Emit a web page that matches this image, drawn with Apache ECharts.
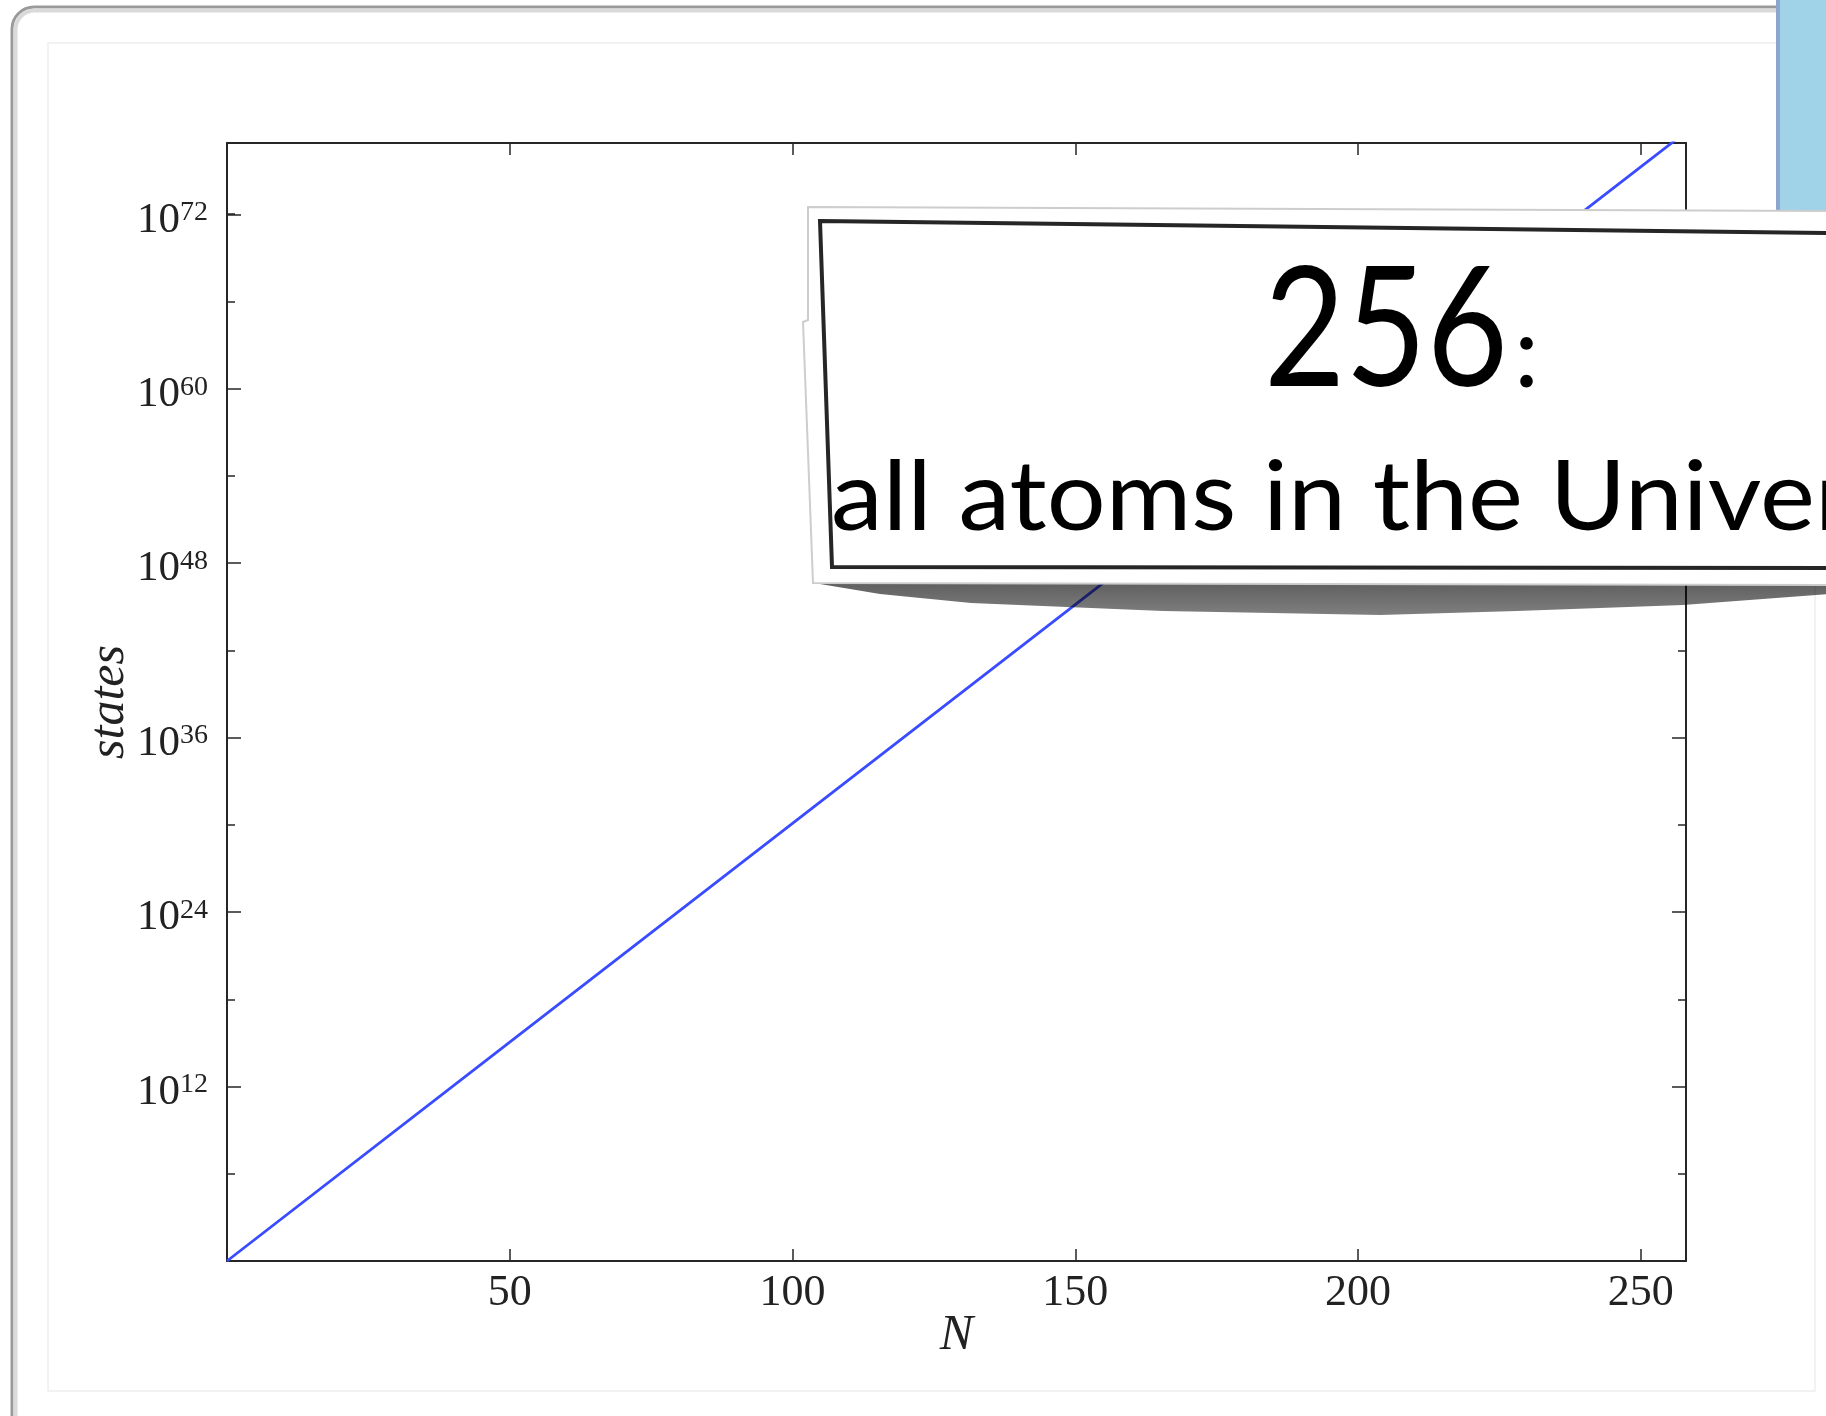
<!DOCTYPE html>
<html><head><meta charset="utf-8">
<script src="https://cdn.jsdelivr.net/npm/echarts@6/dist/echarts.min.js"></script>
<style>html,body{margin:0;padding:0;background:#fff;overflow:hidden}#c{width:1826px;height:1416px}</style>
</head><body><div id="c"></div>
<script>
// ---- data (N bits -> number of states) ----
const N = [0, 50, 100, 150, 200, 250, 256];
const states = [1, 1.13e15, 1.27e30, 1.43e45, 1.61e60, 1.81e75, 1.16e77];
const xTickLabels = [50, 100, 150, 200, 250];
const yTickExponents = [12, 24, 36, 48, 60, 72];
const xName = 'N';
const yName = 'states';
const calloutNumber = '256';
const calloutText = 'all atoms in the Universe';

const X_MIN = 0, X_MAX = 258;
const Y_MIN = 1, Y_MAX = 8e76;
const Y_EXP_MAX = 76.9;

const chart = echarts.init(document.getElementById('c'), null, {renderer: 'canvas'});
function textWidth(font, s) {
  const ctx = document.createElement('canvas').getContext('2d');
  ctx.font = font; return ctx.measureText(s).width;
}
const bigFont = '167px Lato';
const lineFont = '96px Lato';
const colonFont = '100px Lato';
const sxBig = 244 / textWidth(bigFont, calloutNumber);
const sxLine = 984 / textWidth(lineFont, 'all atoms in the Unive');

const AX = '#262626';
const serif = 'Liberation Serif';
const data = N.map((n, i) => [n, states[i]]);

const axisCommonX = {
  type: 'value', min: X_MIN, max: X_MAX, interval: 50,
  splitLine: {show: false},
  axisLine: {show: true, onZero: false, lineStyle: {color: AX, width: 2}},
  axisTick: {show: true, inside: true, length: 12, lineStyle: {color: AX, width: 1.5}}
};

const option = {
  backgroundColor: '#ffffff',
  animation: false,
  grid: {left: 227, top: 143, width: 1459, height: 1118, containLabel: false, outerBoundsMode: 'none'},
  xAxis: [
    Object.assign({}, axisCommonX, {
      position: 'bottom',
      axisLabel: {
        show: true, margin: 10, fontSize: 44, fontFamily: serif, color: '#222',
        formatter: v => xTickLabels.includes(v) ? String(v) : ''
      },
      name: xName, nameLocation: 'middle', nameGap: 50, nameMoveOverlap: false,
      nameTextStyle: {fontFamily: serif, fontStyle: 'italic', fontSize: 50, color: '#222'}
    }),
    Object.assign({}, axisCommonX, {position: 'top', axisLabel: {show: false}})
  ],
  yAxis: [
    {
      type: 'log', logBase: 1e12, min: Y_MIN, max: Y_MAX, position: 'left',
      splitLine: {show: false},
      axisLine: {show: true, onZero: false, lineStyle: {color: AX, width: 2}},
      axisTick: {show: true, inside: true, length: 14, lineStyle: {color: AX, width: 1.5}},
      axisLabel: {
        show: true, margin: 19, padding: [12, 0, 0, 0],
        formatter: v => {
          const e = Math.round(Math.log10(v));
          return yTickExponents.includes(e) ? '{b|10}{s|' + e + '}' : '';
        },
        rich: {
          b: {fontSize: 43, fontFamily: serif, color: '#222', lineHeight: 43},
          s: {fontSize: 28, fontFamily: serif, color: '#222', lineHeight: 28, verticalAlign: 'top'}
        }
      },
      name: yName, nameLocation: 'middle', nameGap: 92, nameRotate: 90, nameMoveOverlap: false,
      nameTextStyle: {fontFamily: serif, fontStyle: 'italic', fontSize: 50, color: '#222'}
    },
    {
      type: 'value', min: 0, max: Y_EXP_MAX, interval: 6, position: 'left',
      splitLine: {show: false}, axisLine: {show: false, onZero: false}, axisLabel: {show: false},
      axisTick: {show: true, inside: true, length: 8, lineStyle: {color: AX, width: 1.5}}
    },
    {
      type: 'log', logBase: 1e12, min: Y_MIN, max: Y_MAX, position: 'right',
      splitLine: {show: false}, axisLabel: {show: false},
      axisLine: {show: true, onZero: false, lineStyle: {color: AX, width: 2}},
      axisTick: {show: true, inside: true, length: 14, lineStyle: {color: AX, width: 1.5}}
    },
    {
      type: 'value', min: 0, max: Y_EXP_MAX, interval: 6, position: 'right',
      splitLine: {show: false}, axisLine: {show: false, onZero: false}, axisLabel: {show: false},
      axisTick: {show: true, inside: true, length: 8, lineStyle: {color: AX, width: 1.5}}
    }
  ],
  series: [{
    type: 'line', xAxisIndex: 0, yAxisIndex: 0, data: data,
    showSymbol: false, symbol: 'none', clip: true,
    lineStyle: {color: '#3a4cff', width: 2.8}
  }],
  graphic: {elements: [
    {type: 'rect', z: -30, silent: true, shape: {x: 12, y: 7, width: 1900, height: 1500, r: 22},
      style: {fill: '#fff', stroke: '#9a9a9a', lineWidth: 3}},
    {type: 'rect', z: -29, silent: true, shape: {x: 15.5, y: 10.5, width: 1900, height: 1500, r: 19},
      style: {fill: 'none', stroke: '#dadada', lineWidth: 4}},
    {type: 'rect', z: -28, silent: true, shape: {x: 48, y: 43, width: 1767, height: 1348},
      style: {fill: 'none', stroke: '#eeeeee', lineWidth: 1.5}},
    {type: 'rect', z: -27, silent: true, shape: {x: 1778, y: 0, width: 60, height: 240},
      style: {fill: '#a0d2e8'}},
    {type: 'rect', z: -26, silent: true, shape: {x: 1776, y: 0, width: 4, height: 240},
      style: {fill: '#8ca6cf'}},
    {type: 'polygon', z: 50, silent: true, smooth: 0.3,
      shape: {points: [[814, 575], [1830, 575], [1830, 594], [1683, 605], [1517, 611], [1380, 615], [1163, 611], [971, 603], [880, 594], [814, 583]]},
      style: {fill: {type: 'linear', x: 0, y: 0, x2: 0, y2: 1, colorStops: [
        {offset: 0, color: 'rgba(0,0,0,0.66)'}, {offset: 1, color: 'rgba(0,0,0,0.5)'}]}}},
    {type: 'polygon', z: 51, silent: true,
      shape: {points: [[808, 207], [1830, 211], [1830, 585], [813, 583], [803, 322], [808, 320]]},
      style: {fill: '#fff', stroke: '#cdcdcd', lineWidth: 2}},
    {type: 'polygon', z: 52, silent: true,
      shape: {points: [[820, 221], [1830, 233], [1830, 568], [832, 567]]},
      style: {fill: '#fff', stroke: '#262626', lineWidth: 4}},
    {type: 'text', z: 53, silent: true, x: 1264, y: 332, scaleX: sxBig,
      style: {text: calloutNumber, font: bigFont, fill: '#000', align: 'left', verticalAlign: 'middle'}},
    {type: 'text', z: 53, silent: true, x: 1514, y: 355,
      style: {text: ':', font: colonFont, fill: '#000', align: 'left', verticalAlign: 'middle'}},
    {type: 'text', z: 53, silent: true, x: 831, y: 499, scaleX: sxLine,
      style: {text: calloutText, font: lineFont, fill: '#000', align: 'left', verticalAlign: 'middle'}}
  ]}
};
chart.setOption(option);
</script>
</body></html>
